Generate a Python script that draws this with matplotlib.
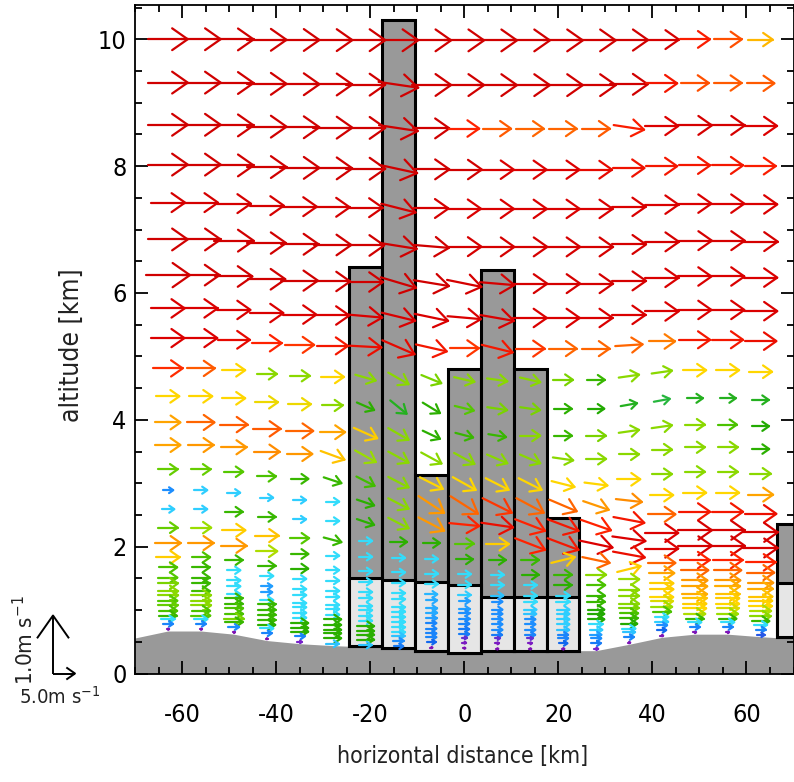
import numpy as np
import matplotlib
matplotlib.use('Agg')
import matplotlib.pyplot as plt
from matplotlib.collections import LineCollection
from matplotlib.colors import LinearSegmentedColormap, Normalize
from matplotlib.ticker import MultipleLocator
from matplotlib.transforms import IdentityTransform

plt.rcParams['font.family'] = ['DejaVu Sans']
plt.rcParams['font.stretch'] = 'condensed'
plt.rcParams['axes.unicode_minus'] = False
plt.rcParams['mathtext.default'] = 'regular'

# model columns (km) and terrain height under each column (km)
x_cols = [-63, -56, -49, -42, -35, -28, -21, -14, -7, 0, 7, 14, 21, 28, 35, 42, 49, 56, 63]
terrain_x = [-70] + x_cols + [70]
terrain_z = [0.56, 0.67, 0.67, 0.62, 0.52, 0.47, 0.44, 0.42, 0.40, 0.38, 0.37,
             0.36, 0.36, 0.36, 0.36, 0.46, 0.57, 0.62, 0.62, 0.58, 0.55]

# terrain-following levels, height above ground (km) of a flat column
ZTOP = 10.6
level_agl = [9.96, 9.23, 8.52, 7.85, 7.21, 6.59, 5.99, 5.43, 4.93, 4.42, 3.95,
             3.51, 3.13, 2.72, 2.37, 2.05, 1.74, 1.48, 1.24, 1.07, 0.90, 0.80,
             0.67, 0.60, 0.51, 0.43, 0.34, 0.26, 0.20, 0.12, 0.03]

# horizontal wind (m/s), one row per level, top to bottom
U = [
    [9.0, 9.0, 9.0, 9.0, 9.0, 9.0, 9.0, 9.0, 9.0, 9.0, 9.0, 9.0, 9.0, 9.0, 8.7, 7.8, 6.9, 6.4, 5.5],
    [9.0, 9.0, 9.0, 9.0, 9.0, 9.0, 9.0, 9.0, 9.0, 9.0, 9.0, 9.0, 9.0, 9.0, 8.6, 7.0, 6.4, 6.3, 6.3],
    [9.0, 9.0, 9.0, 9.0, 9.0, 9.0, 9.0, 8.8, 8.2, 6.8, 6.3, 6.2, 6.2, 6.3, 6.9, 7.5, 7.8, 7.8, 7.5],
    [9.0, 9.0, 9.0, 9.0, 9.0, 9.0, 9.0, 8.5, 8.2, 8.0, 7.6, 7.5, 7.5, 7.3, 7.1, 7.0, 7.0, 7.0, 6.9],
    [7.8, 7.8, 7.8, 7.8, 7.8, 7.8, 7.8, 7.8, 7.8, 7.6, 7.6, 7.6, 7.6, 7.6, 7.6, 7.6, 7.6, 7.6, 7.6],
    [9.0, 9.0, 9.0, 8.8, 8.6, 8.5, 8.5, 8.3, 8.0, 7.8, 7.8, 7.8, 7.8, 7.8, 7.8, 7.8, 7.8, 7.8, 7.8],
    [10.0, 8.5, 8.5, 8.5, 8.3, 8.0, 8.0, 8.0, 8.0, 7.8, 7.8, 7.8, 7.8, 7.8, 7.8, 7.6, 7.6, 7.6, 7.6],
    [7.6, 7.6, 7.6, 7.6, 7.6, 7.6, 7.6, 7.6, 7.6, 7.6, 7.6, 7.6, 7.6, 7.6, 7.6, 7.6, 7.6, 7.6, 7.6],
    [7.5, 7.5, 7.3, 6.8, 6.6, 7.0, 7.2, 7.3, 7.0, 6.6, 7.0, 6.6, 6.2, 6.2, 6.2, 6.0, 7.0, 7.0, 7.2],
    [6.7, 6.3, 5.2, 4.6, 4.6, 5.2, 4.6, 4.6, 4.5, 4.6, 4.6, 4.6, 4.5, 4.0, 4.6, 4.6, 5.2, 5.2, 5.2],
    [5.2, 5.2, 5.2, 5.1, 5.1, 4.6, 3.9, 3.7, 3.9, 4.3, 4.5, 4.5, 3.9, 3.8, 3.7, 3.6, 3.7, 3.7, 3.7],
    [5.7, 6.2, 6.3, 6.3, 6.2, 5.7, 5.3, 4.6, 3.9, 4.0, 4.0, 4.6, 4.0, 4.5, 4.6, 4.6, 4.6, 4.2, 3.8],
    [5.7, 5.8, 5.8, 5.9, 5.8, 5.4, 4.7, 4.6, 4.6, 4.6, 4.6, 4.6, 4.6, 4.6, 4.6, 4.6, 4.6, 4.6, 3.9],
    [4.4, 4.4, 4.3, 4.2, 4.0, 4.0, 4.1, 4.6, 5.2, 5.2, 5.2, 5.2, 5.2, 5.2, 5.2, 4.6, 4.6, 4.6, 4.6],
    [2.4, 2.9, 2.9, 2.9, 2.9, 3.0, 3.9, 4.6, 5.8, 6.2, 6.6, 6.2, 6.2, 5.8, 5.9, 5.2, 5.2, 5.2, 5.7],
    [2.9, 2.9, 4.0, 4.0, 2.9, 3.0, 3.9, 4.6, 5.8, 6.8, 7.2, 6.8, 7.0, 6.8, 7.0, 6.2, 7.0, 7.0, 7.2],
    [4.4, 4.7, 5.3, 5.4, 4.3, 4.0, 3.0, 3.9, 3.9, 4.3, 5.3, 6.8, 7.0, 7.5, 7.5, 7.5, 7.8, 7.8, 7.8],
    [5.8, 5.8, 5.8, 4.8, 4.0, 3.0, 3.0, 3.0, 3.0, 3.9, 3.9, 4.0, 5.3, 6.2, 7.2, 7.5, 7.8, 7.8, 7.8],
    [5.3, 4.2, 4.0, 4.0, 3.9, 3.0, 3.0, 3.0, 3.0, 3.0, 3.0, 3.9, 4.0, 4.6, 5.3, 6.2, 6.8, 6.8, 6.8],
    [4.2, 4.0, 3.0, 3.0, 3.0, 3.0, 3.0, 3.0, 3.0, 3.0, 3.0, 3.0, 3.9, 4.2, 4.7, 5.7, 6.2, 6.2, 6.2],
    [4.3, 4.0, 3.0, 2.5, 3.0, 3.0, 3.0, 3.0, 2.7, 2.9, 2.8, 3.0, 3.0, 4.0, 4.6, 5.3, 5.8, 5.8, 5.8],
    [4.5, 4.0, 3.0, 2.5, 3.0, 3.0, 3.0, 3.0, 2.6, 2.5, 2.4, 3.0, 3.0, 4.0, 4.6, 5.3, 5.7, 5.6, 5.6],
    [4.6, 4.1, 3.0, 3.0, 3.0, 3.0, 3.0, 3.0, 2.6, 2.5, 2.4, 2.9, 2.9, 3.8, 4.6, 5.2, 5.6, 5.4, 5.4],
    [4.6, 4.6, 4.0, 4.0, 3.0, 3.0, 3.0, 3.0, 2.6, 2.4, 2.4, 2.8, 2.9, 3.8, 4.5, 5.0, 5.4, 5.3, 5.3],
    [4.3, 4.6, 4.0, 4.0, 3.0, 3.0, 3.0, 3.0, 2.5, 2.4, 2.4, 2.4, 2.9, 3.8, 4.2, 4.7, 5.3, 5.2, 5.2],
    [4.4, 4.6, 4.2, 4.0, 3.0, 3.9, 3.0, 3.0, 2.3, 2.3, 2.4, 2.4, 2.9, 3.0, 4.0, 4.2, 5.2, 5.0, 4.8],
    [4.2, 4.2, 4.2, 4.0, 3.9, 3.9, 3.9, 3.0, 2.3, 2.2, 2.4, 2.4, 2.8, 2.9, 3.8, 3.0, 4.8, 4.7, 4.6],
    [4.0, 4.3, 4.5, 3.9, 3.9, 3.9, 3.9, 3.0, 2.3, 2.2, 2.2, 2.3, 2.3, 2.5, 3.0, 2.9, 4.0, 4.0, 4.0],
    [3.0, 3.0, 4.0, 3.0, 3.9, 3.9, 3.9, 2.8, 2.3, 1.2, 1.2, 1.2, 2.3, 2.4, 2.8, 2.4, 3.0, 3.0, 3.0],
    [2.3, 2.3, 2.4, 2.3, 2.3, 3.9, 3.9, 2.4, 2.0, 0.8, 0.8, 0.8, 2.0, 2.2, 2.3, 2.0, 2.3, 2.3, 2.3],
    [0.5, 0.5, 0.5, 0.4, 1.0, 2.8, 2.8, 2.2, 0.5, 0.5, 0.5, 0.5, 0.6, 1.0, 0.6, 0.6, 0.6, 0.6, 1.8],
]

# vertical wind (m/s), same layout
W = [
    [0, 0, 0, 0, 0, 0, 0, 0, 0, 0, 0, 0, 0, 0, 0, 0, 0, 0, 0],
    [0, 0, 0, 0, 0, 0, 0, -0.10, 0, 0, 0, 0, 0, 0, 0, 0, 0, 0, 0],
    [0, 0, 0, 0, 0, 0, 0, -0.10, 0, 0, 0, 0, 0, 0, -0.08, 0, 0, 0, 0],
    [0, 0, 0, 0, 0, 0, 0, -0.14, 0, 0, 0, 0, 0, 0, 0, 0, 0, 0, 0],
    [0, 0, 0, 0, 0, 0, 0, -0.15, 0, 0, 0, 0, 0, 0, 0, 0, 0, 0, 0],
    [0, 0, 0, 0, 0, 0, 0, -0.10, -0.05, 0, 0, 0, 0, 0, 0, 0, 0, 0, 0],
    [0, 0, 0, 0, 0, 0, 0, -0.18, -0.10, -0.12, -0.05, 0, 0, 0, 0, 0, 0, 0, 0],
    [0, 0, 0, 0, 0, 0, -0.05, -0.14, -0.12, -0.05, -0.10, 0, 0, 0, 0, 0, 0, 0, 0],
    [0, 0, 0, 0, 0, 0, -0.03, -0.24, -0.12, 0, -0.13, 0, 0, 0, 0.03, 0, 0, 0, 0],
    [0, 0, 0, 0, 0, 0, -0.10, -0.20, -0.14, -0.08, -0.05, -0.08, 0, 0, 0.05, 0.05, 0, 0, 0],
    [0, 0, 0, 0, 0, 0, -0.13, -0.23, -0.18, -0.08, -0.05, -0.05, 0, 0, 0.05, 0.05, 0, 0, 0],
    [0, 0, 0, 0, 0, 0, -0.18, -0.20, -0.14, -0.08, -0.05, 0, 0, 0, 0.05, 0.05, 0, 0, 0],
    [0, 0, 0, 0, 0, -0.15, -0.20, -0.19, -0.19, -0.19, -0.15, -0.15, -0.05, 0, 0, 0, 0, 0, 0],
    [0, 0, 0, 0, 0, -0.10, -0.16, -0.18, -0.20, -0.22, -0.20, -0.20, -0.10, -0.05, 0, 0, 0, 0, 0],
    [0, 0, 0, 0, 0, 0, -0.10, -0.18, -0.29, -0.30, -0.25, -0.25, -0.20, -0.15, -0.05, 0, 0, 0, 0],
    [0, 0, 0, 0, 0, 0, -0.10, -0.18, -0.23, -0.05, -0.08, -0.20, -0.20, -0.18, -0.10, 0, 0, 0, 0],
    [0, 0, 0, 0, 0, -0.08, 0, 0, 0, 0, 0, -0.20, -0.20, -0.12, -0.08, 0, 0, 0, 0],
    [0, 0, 0, 0, 0, 0, 0, 0, 0, 0, 0, 0, 0.10, -0.10, -0.10, 0, 0, 0, 0],
    [0, 0, 0, 0, 0, 0, 0, 0, 0, 0, 0, 0, 0, 0, 0.10, 0, 0, 0, 0],
] + [[0] * 19 for _ in range(12)]

# buildings / columns drawn as boxes
bar_x = [-21, -14, -7, 0, 7, 14, 21, 70]
bar_top = [6.41, 10.31, 3.13, 4.80, 6.36, 4.80, 2.45, 2.36]
bar_mid = [1.51, 1.48, 1.44, 1.40, 1.21, 1.21, 1.21, 1.43]
bar_base = [0.43, 0.40, 0.35, 0.32, 0.35, 0.35, 0.35, 0.58]

# arrow scale in pixels per m/s (vertical is exaggerated)
PX_U = 4.4
PX_W = 58.0

cmap = LinearSegmentedColormap.from_list('wind', [
    (0.0 / 8, '#880099'), (1.0 / 8, '#7722cc'), (2.0 / 8, '#1166ee'),
    (2.4 / 8, '#1e90ff'), (3.0 / 8, '#33ddff'), (3.8 / 8, '#22aa00'),
    (4.3 / 8, '#55c800'), (4.7 / 8, '#99dd00'), (5.2 / 8, '#ffd700'),
    (5.7 / 8, '#ffa500'), (6.2 / 8, '#ff6600'), (6.8 / 8, '#ff2200'),
    (7.5 / 8, '#dd0000'), (8.0 / 8, '#d00000')])
norm = Normalize(0, 8)


def chevron(cx, cy, dx, dy, pivot='middle'):
    # shaft plus open head, in pixels
    L = np.hypot(dx, dy)
    if L < 1e-6:
        return []
    ex, ey = dx / L, dy / L
    if pivot == 'middle':
        tail = (cx - dx / 2, cy - dy / 2)
        tip = (cx + dx / 2, cy + dy / 2)
    else:
        tail = (cx, cy)
        tip = (cx + dx, cy + dy)
    a = 0.48 * L
    back, side = a * np.cos(np.radians(35)), a * np.sin(np.radians(35))
    h1 = (tip[0] - ex * back - ey * side, tip[1] - ey * back + ex * side)
    h2 = (tip[0] - ex * back + ey * side, tip[1] - ey * back - ex * side)
    return [[tail, tip], [h1, tip, h2]]


fig = plt.figure(figsize=(7.94, 7.82), dpi=100)
ax = fig.add_axes([135 / 794, 108.5 / 782, 658.5 / 794, 668.5 / 782])
ax.set_xlim(-70, 70)
ax.set_ylim(0, 10.54)

ax.fill_between(terrain_x, 0, terrain_z, color='#999999', lw=0, zorder=1)

bt = np.array(bar_top)
bm = np.array(bar_mid)
bb = np.array(bar_base)
ax.bar(bar_x, bt - bb, bottom=bb, width=7, color='#999999', edgecolor='black', linewidth=2.2, zorder=2)
ax.bar(bar_x, bm - bb, bottom=bb, width=7, color='#e6e6e6', edgecolor='black', linewidth=2.2, zorder=2)

to_px = ax.transData
from_px = ax.transData.inverted()
segs, colors = [], []
for i, agl in enumerate(level_agl):
    for j, xc in enumerate(x_cols):
        zs = terrain_z[j + 1]
        z = zs + agl * (ZTOP - zs) / ZTOP
        u, w = U[i][j], W[i][j]
        cx, cy = to_px.transform((xc, z))
        c = cmap(norm(np.hypot(u, w)))
        for s in chevron(cx, cy, u * PX_U, w * PX_W):
            segs.append(from_px.transform(np.array(s)))
            colors.append(c)

ax.add_collection(LineCollection(segs, colors=colors, linewidths=1.6,
                                 capstyle='round', joinstyle='round', zorder=3))

ax.xaxis.set_major_locator(MultipleLocator(20))
ax.xaxis.set_minor_locator(MultipleLocator(5))
ax.yaxis.set_major_locator(MultipleLocator(2))
ax.yaxis.set_minor_locator(MultipleLocator(0.5))
ax.tick_params(which='both', direction='in', top=True, right=True, width=1.3, labelsize=18)
ax.tick_params(which='major', length=9.5)
ax.tick_params(which='minor', length=5)
ax.tick_params(axis='x', pad=21)
ax.tick_params(axis='y', pad=6)
for sp in ax.spines.values():
    sp.set_linewidth(1.3)
    sp.set_zorder(4)

fig.text(463 / 794, 1 - 757 / 782, 'horizontal distance [km]', fontsize=16.5, ha='center', va='center', color='#222222')
fig.text(72 / 794, 1 - 345 / 782, 'altitude [km]', fontsize=19, rotation=90, ha='center', va='center', color='#222222')

# reference arrows
ox, oy = 53, 782 - 673.5
leg = chevron(ox, oy, 0, 1.0 * PX_W, pivot='tail') + chevron(ox, oy, 5.0 * PX_U, 0, pivot='tail')
fig.add_artist(LineCollection(leg, colors='black', linewidths=1.4, transform=IdentityTransform()))
fig.text(25 / 794, 1 - 640 / 782, '1.0m s$^{-1}$', fontsize=16, rotation=90, ha='center', va='center', color='#222222')
fig.text(60 / 794, 1 - 697 / 782, '5.0m s$^{-1}$', fontsize=14.5, ha='center', va='center', color='#222222')

fig.savefig('out.png', dpi=100)
